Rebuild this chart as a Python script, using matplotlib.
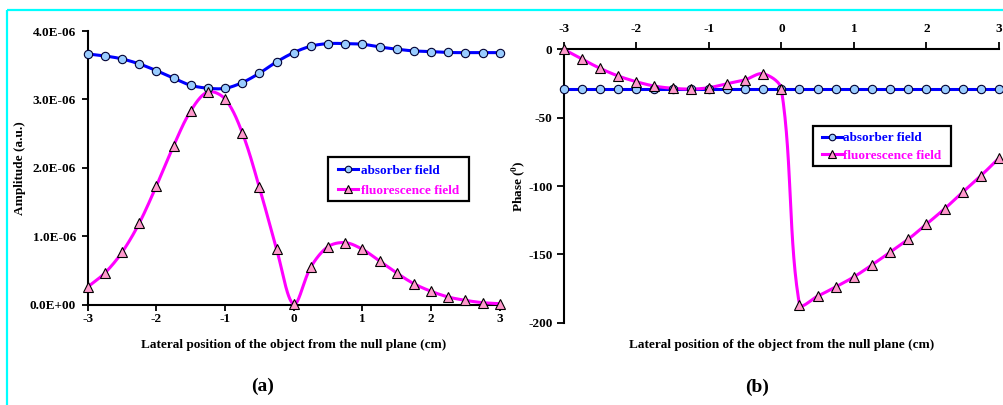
import numpy as np
import matplotlib
matplotlib.use("Agg")
import matplotlib.pyplot as plt
from matplotlib.lines import Line2D
from matplotlib.patches import Rectangle

# ---- data -------------------------------------------------------------
x_pos = [-3.0, -2.75, -2.5, -2.25, -2.0, -1.75, -1.5, -1.25, -1.0, -0.75, -0.5, -0.25,
         0.0, 0.25, 0.5, 0.75, 1.0, 1.25, 1.5, 1.75, 2.0, 2.25, 2.5, 2.75, 3.0]

amp_absorber = [3.665e-6, 3.636e-6, 3.592e-6, 3.519e-6, 3.421e-6, 3.310e-6, 3.207e-6, 3.164e-6,
                3.162e-6, 3.246e-6, 3.383e-6, 3.548e-6, 3.684e-6, 3.778e-6, 3.816e-6, 3.816e-6,
                3.807e-6, 3.767e-6, 3.734e-6, 3.709e-6, 3.699e-6, 3.686e-6, 3.684e-6, 3.684e-6,
                3.684e-6]
amp_fluorescence = [0.259e-6, 0.463e-6, 0.766e-6, 1.190e-6, 1.735e-6, 2.320e-6, 2.832e-6, 3.110e-6,
                    3.007e-6, 2.515e-6, 1.716e-6, 0.814e-6, 0.005e-6, 0.551e-6, 0.848e-6, 0.907e-6,
                    0.810e-6, 0.639e-6, 0.463e-6, 0.307e-6, 0.196e-6, 0.113e-6, 0.064e-6, 0.030e-6,
                    0.015e-6]

phase_absorber = [-28.8] * 25
phase_fluorescence = [0.0, -7.1, -13.9, -19.5, -23.7, -26.9, -28.5, -29.1, -28.1, -25.2, -22.3, -17.9,
                      -29.1, -186.7, -180.6, -173.8, -166.5, -157.7, -148.4, -138.9, -127.9, -116.7,
                      -104.5, -92.5, -79.6]

x_ticks = [-3, -2, -1, 0, 1, 2, 3]
amp_ticks = [0.0, 1e-6, 2e-6, 3e-6, 4e-6]
amp_tick_labels = ["0.0E+00", "1.0E-06", "2.0E-06", "3.0E-06", "4.0E-06"]
phase_ticks = [0, -50, -100, -150, -200]

series_names = ["absorber field", "fluorescence field"]
xlabel = "Lateral position of the object from the null plane (cm)"

# ---- style ------------------------------------------------------------
W, H, DPI = 1004, 405, 100
SERIF = "Liberation Serif"
plt.rcParams["font.family"] = [SERIF, "DejaVu Serif"]
plt.rcParams["font.weight"] = "bold"
plt.rcParams["mathtext.fontset"] = "custom"
plt.rcParams["mathtext.rm"] = SERIF
plt.rcParams["mathtext.bf"] = SERIF + ":bold"

BLUE, MAGENTA = "#0000FF", "#FF00FF"
CIRCLE_FACE, TRI_FACE = "#99CCFF", "#FF99CC"
LW = 2.2
TICK_FS = 9.5
LABEL_FS = 9.5
LEGEND_FS = 9.5

fig = plt.figure(figsize=(W / DPI, H / DPI), dpi=DPI)


def fx(px):
    return px / W


def fy(py):
    return 1 - py / H


def px_rect(x0, y_top, x1, y_bot):
    return [fx(x0), fy(y_bot), (x1 - x0) / W, (y_bot - y_top) / H]


def excel_smooth(ax, x, y, n=30):
    """Bezier smoothing in display space, tangent arms scaled by segment length."""
    pts = ax.transData.transform(np.column_stack([x, y]))
    m = len(pts)
    out = [pts[:1]]
    t = np.linspace(0, 1, n + 1)[1:, None]
    for i in range(m - 1):
        p0 = pts[i - 1] if i > 0 else pts[i]
        p1, p2 = pts[i], pts[i + 1]
        p3 = pts[i + 2] if i + 2 < m else pts[i + 1]
        d01, d12, d23 = (np.hypot(*(p1 - p0)), np.hypot(*(p2 - p1)), np.hypot(*(p3 - p2)))
        a = d12 / (d01 + d12) / 3 if d01 + d12 > 0 else 0
        b = d12 / (d12 + d23) / 3 if d12 + d23 > 0 else 0
        c1 = p1 + (p2 - p0) * a
        c2 = p2 - (p3 - p1) * b
        seg = (1 - t) ** 3 * p1 + 3 * (1 - t) ** 2 * t * c1 + 3 * (1 - t) * t ** 2 * c2 + t ** 3 * p2
        out.append(seg)
    data = ax.transData.inverted().transform(np.vstack(out))
    return data[:, 0], data[:, 1]


SERIES_STYLE = [
    dict(color=BLUE, marker="o", mfc=CIRCLE_FACE, mec="#000033", ms=6),
    dict(color=MAGENTA, marker="^", mfc=TRI_FACE, mec="#000000", ms=6.5),
]


def draw_series(ax, x, y, style):
    sx, sy = excel_smooth(ax, x, y)
    ax.plot(sx, sy, color=style["color"], lw=LW, solid_capstyle="round", zorder=3, clip_on=False)
    ax.plot(x, y, ls="none", marker=style["marker"], ms=style["ms"], mfc=style["mfc"],
            mec=style["mec"], mew=0.8, zorder=4, clip_on=False)


def draw_legend(box, handle_x, text_x, rows_y):
    """Boxed key in figure pixel coordinates: box=(x0, y0, x1, y1)."""
    x0, y0, x1, y1 = box
    fig.add_artist(Rectangle((fx(x0), fy(y1)), (x1 - x0) / W, (y1 - y0) / H,
                             transform=fig.transFigure, facecolor="white",
                             edgecolor="black", lw=1.6, zorder=10))
    for name, style, ry, c in zip(series_names, SERIES_STYLE, rows_y, [BLUE, MAGENTA]):
        fig.add_artist(Line2D([fx(handle_x[0]), fx(handle_x[1])], [fy(ry), fy(ry)],
                              transform=fig.transFigure, color=style["color"], lw=LW,
                              zorder=11))
        fig.add_artist(Line2D([fx((handle_x[0] + handle_x[1]) / 2)], [fy(ry)],
                              transform=fig.transFigure, ls="none", marker=style["marker"],
                              ms=style["ms"] - 1.3, mfc=style["mfc"], mec=style["mec"],
                              mew=0.8, zorder=12))
        fig.text(fx(text_x), fy(ry), name, ha="left", va="center_baseline", color=c,
                 fontsize=LEGEND_FS, fontweight="bold", zorder=12)


# ---- (a) amplitude ----------------------------------------------------
ax1 = fig.add_axes(px_rect(87.7, 31.0, 499.7, 304.7))
ax1.set_xlim(-3, 3)
ax1.set_ylim(0, 4e-6)
for s in ("top", "right"):
    ax1.spines[s].set_visible(False)
for s in ("left", "bottom"):
    ax1.spines[s].set_linewidth(1.5)
ax1.set_xticks(x_ticks)
ax1.set_xticklabels([str(v) for v in x_ticks])
ax1.set_yticks(amp_ticks)
ax1.set_yticklabels(amp_tick_labels)
ax1.tick_params(direction="out", length=4.5, width=1.3, labelsize=TICK_FS)
ax1.tick_params(axis="x", pad=1.5)
ax1.tick_params(axis="y", pad=4)
ax1.set_xlabel(xlabel, fontsize=LABEL_FS, fontweight="bold")
ax1.xaxis.set_label_coords(0.5, -(345 - 304.7) / 273.7, transform=ax1.transAxes)
ax1.xaxis.label.set_va("center")
ax1.set_ylabel("Amplitude (a.u.)", fontsize=LABEL_FS, fontweight="bold")
ax1.yaxis.set_label_coords((20 - 87.7) / 412, 0.5)
ax1.yaxis.label.set_va("center")

draw_series(ax1, x_pos, amp_absorber, SERIES_STYLE[0])
draw_series(ax1, x_pos, amp_fluorescence, SERIES_STYLE[1])
draw_legend((328.3, 157.3, 469.0, 200.7), (338.0, 358.3), 361.0, (169.0, 189.0))

# ---- (b) phase --------------------------------------------------------
ax2 = fig.add_axes(px_rect(563.7, 49.3, 999.0, 322.7))
ax2.set_xlim(-3, 3)
ax2.set_ylim(-200, 0)
for s in ("bottom", "right"):
    ax2.spines[s].set_visible(False)
for s in ("left", "top"):
    ax2.spines[s].set_linewidth(1.5)
ax2.xaxis.tick_top()
ax2.set_xticks(x_ticks)
ax2.set_xticklabels([str(v) for v in x_ticks])
ax2.set_yticks(phase_ticks)
ax2.set_yticklabels([str(v) for v in phase_ticks])
ax2.tick_params(direction="out", length=5, width=1.3, labelsize=TICK_FS)
ax2.tick_params(axis="x", pad=5)
ax2.tick_params(axis="y", pad=3)
ax2.xaxis.set_label_position("bottom")
ax2.set_xlabel(xlabel, fontsize=LABEL_FS, fontweight="bold")
ax2.xaxis.set_label_coords(0.5, -(345 - 322.7) / 273.4, transform=ax2.transAxes)
ax2.xaxis.label.set_va("center")
ax2.set_ylabel(r"Phase ($^{\mathbf{0}}$)", fontsize=LABEL_FS, fontweight="bold")
ax2.yaxis.set_label_coords((519 - 563.7) / 435.3, 0.5)
ax2.yaxis.label.set_va("center")

draw_series(ax2, x_pos, phase_absorber, SERIES_STYLE[0])
draw_series(ax2, x_pos, phase_fluorescence, SERIES_STYLE[1])
draw_legend((813.0, 125.7, 950.7, 166.0), (821.7, 841.7), 843.5, (136.7, 154.3))

# ---- panel captions and frame -----------------------------------------
fig.text(fx(263), fy(386.5), "(a)", ha="center", va="center", fontsize=14, fontweight="bold")
fig.text(fx(757), fy(387.5), "(b)", ha="center", va="center", fontsize=14, fontweight="bold")

fig.add_artist(Line2D([fx(6.5), fx(6.5)], [0, fy(9.5)], transform=fig.transFigure,
                      color="#00FFFF", lw=1.6, solid_capstyle="butt"))
fig.add_artist(Line2D([fx(6.5), 1], [fy(9.5), fy(9.5)], transform=fig.transFigure,
                      color="#00FFFF", lw=1.6, solid_capstyle="butt"))

fig.savefig("out.png", dpi=DPI, facecolor="white")
